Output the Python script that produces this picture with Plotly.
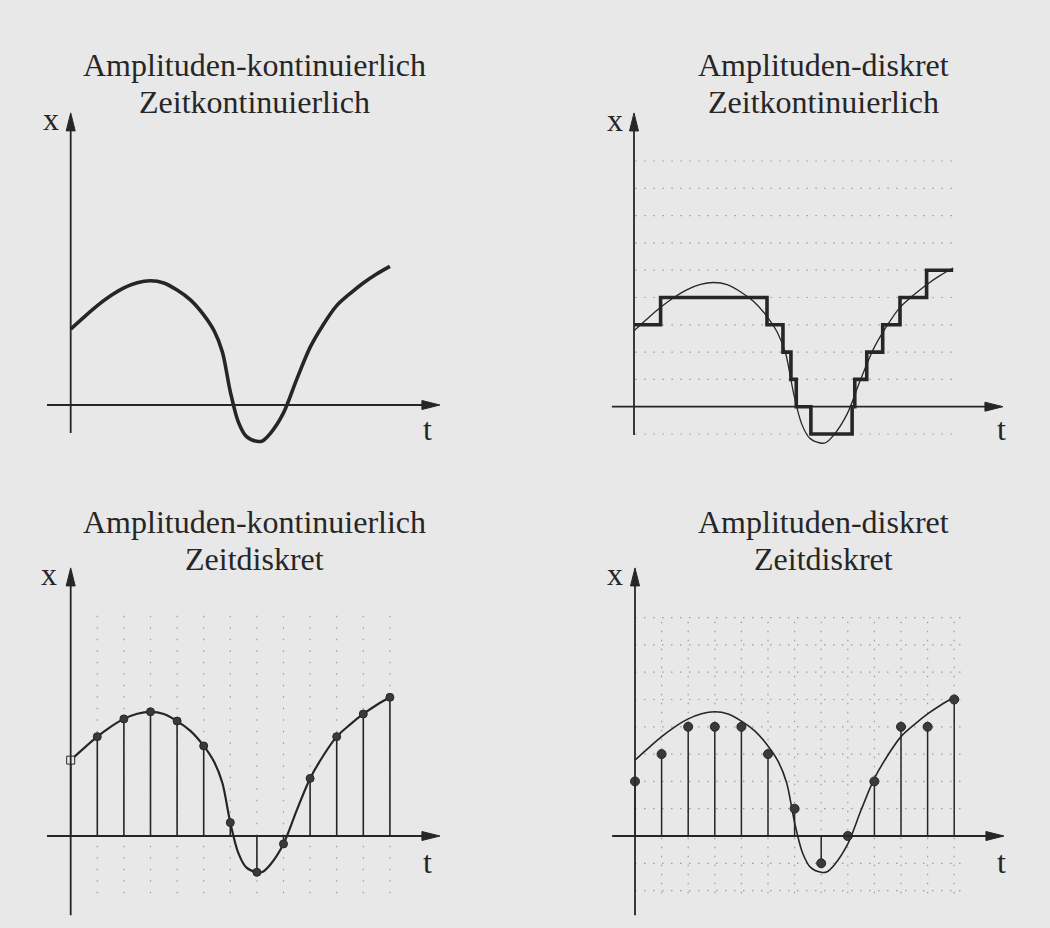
import plotly.graph_objects as go

W, H = 1050, 928
INK = "#262626"
PAPER = "#e8e8e8"
GRID = "#9c9c9c"
FONT = "Liberation Serif, Times New Roman, serif"

# Continuous signal x(t): knots along the curve
# (t in sampling periods, x in quantisation steps)
curve_t = [0, 0.5, 1, 1.5, 2, 2.5, 3, 3.5, 4, 4.5, 5, 5.4, 5.7, 6, 6.3, 6.6,
           7, 7.2, 7.5, 8, 8.5, 9, 9.5, 10, 10.5, 11, 11.5, 12]
curve_x = [2.78, 3.22, 3.64, 4.0, 4.29, 4.48, 4.55, 4.47, 4.21, 3.85, 3.30, 2.70,
           1.95, 0.49, -0.62, -1.15, -1.33, -1.32, -1.05, -0.29, 0.95, 2.11, 2.95,
           3.64, 4.08, 4.47, 4.80, 5.08]

# Samples taken at t = 0, 1, ..., 12
sample_t = list(range(13))
sample_x = [2.78, 3.64, 4.29, 4.55, 4.21, 3.30, 0.49, -1.33, -0.29, 2.11, 3.64, 4.47, 5.08]

# Quantised samples (amplitude- and time-discrete)
sample_q = [2, 3, 4, 4, 4, 3, 1, -1, 0, 2, 4, 4, 5]

# Quantised continuous-time signal: switching instants and held levels
step_t = [0, 1, 5, 5.6, 5.9, 6.1, 6.65, 8.2, 8.3, 8.75, 9.35, 10, 11, 12]
step_q = [3, 4, 3, 2, 1, 0, -1, 0, 1, 2, 3, 4, 5, 5]

titles = [
    ("Amplituden-kontinuierlich", "Zeitkontinuierlich"),
    ("Amplituden-diskret", "Zeitkontinuierlich"),
    ("Amplituden-kontinuierlich", "Zeitdiskret"),
    ("Amplituden-diskret", "Zeitdiskret"),
]

PX_T = 26.6      # pixels per sampling period
PX_Q = 27.3      # pixels per quantisation step
T_RANGE = (-1.5, 14.5)
Q_RANGE = (-3.2, 11.0)
TITLE_SIZE = 32
LABEL_SIZE = 32
ARROW_LEN = 18   # px
ARROW_HW = 4.5   # px

panels = [
    dict(origin=(70.7, 405.0), title_cx=254, base=(76, 112.7),
         t_axis=(-0.89, 13.88), q_axis=(-1.03, 10.7),
         xlab=(-0.74, 10.07), tlab=(13.4, -1.28), hgrid=None, vgrid=None),
    dict(origin=(634.0, 406.7), title_cx=823, base=(76, 112.7),
         t_axis=(-0.83, 13.87), q_axis=(-1.04, 10.76),
         xlab=(-0.71, 10.1), tlab=(13.83, -1.22),
         hgrid=(-1, 9, 0.05, 12.2, "1.5px,7.5px"), vgrid=None),
    dict(origin=(70.7, 836.0), title_cx=254, base=(533, 569.5),
         t_axis=(-0.89, 13.88), q_axis=(-2.9, 9.82),
         xlab=(-0.83, 9.19), tlab=(13.4, -1.36),
         hgrid=None, vgrid=(1, 12, -2.1, 8.4, "1.5px,10px")),
    dict(origin=(635.0, 836.0), title_cx=823, base=(533, 569.5),
         t_axis=(-0.86, 13.87), q_axis=(-2.9, 9.82),
         xlab=(-0.77, 9.19), tlab=(13.76, -1.36),
         hgrid=(-2, 8, 0.0, 12.25, "1.5px,7.5px"), vgrid=(1, 12, -2.1, 8.0, "1.5px,7.5px")),
]

fig = go.Figure()
shapes = []
annotations = []


def axis_names(i):
    suffix = "" if i == 1 else str(i)
    return "x" + suffix, "y" + suffix, "xaxis" + suffix, "yaxis" + suffix


for i, p in enumerate(panels, start=1):
    xr, yr, xkey, ykey = axis_names(i)
    X0, Y0 = p["origin"]
    dom_x = [(X0 + T_RANGE[0] * PX_T) / W, (X0 + T_RANGE[1] * PX_T) / W]
    dom_y = [1 - (Y0 - Q_RANGE[0] * PX_Q) / H, 1 - (Y0 - Q_RANGE[1] * PX_Q) / H]
    fig.update_layout(**{
        xkey: dict(domain=dom_x, range=list(T_RANGE), anchor=yr, visible=False, fixedrange=True),
        ykey: dict(domain=dom_y, range=list(Q_RANGE), anchor=xr, visible=False, fixedrange=True),
    })

    # dotted helper grid
    if p["hgrid"]:
        q0, q1, ta, tb, dash = p["hgrid"]
        for q in range(q0, q1 + 1):
            if q == 0:
                continue
            shapes.append(dict(type="line", xref=xr, yref=yr, x0=ta, x1=tb, y0=q, y1=q,
                               line=dict(color=GRID, width=1.2, dash=dash), layer="below"))
    if p["vgrid"]:
        t0, t1, qa, qb, dash = p["vgrid"]
        for t in range(t0, t1 + 1):
            shapes.append(dict(type="line", xref=xr, yref=yr, x0=t, x1=t, y0=qa, y1=qb,
                               line=dict(color=GRID, width=1.2, dash=dash), layer="below"))

    # coordinate axes with arrow heads
    ta, tb = p["t_axis"]
    qa, qb = p["q_axis"]
    al_t, hw_q = ARROW_LEN / PX_T, ARROW_HW / PX_Q
    al_q, hw_t = ARROW_LEN / PX_Q, ARROW_HW / PX_T
    shapes.append(dict(type="line", xref=xr, yref=yr, x0=ta, x1=tb - al_t * 0.6, y0=0, y1=0,
                       line=dict(color=INK, width=1.8)))
    shapes.append(dict(type="path", xref=xr, yref=yr,
                       path=f"M {tb},0 L {tb - al_t},{hw_q} L {tb - al_t},{-hw_q} Z",
                       fillcolor=INK, line=dict(color=INK, width=1)))
    shapes.append(dict(type="line", xref=xr, yref=yr, x0=0, x1=0, y0=qa, y1=qb - al_q * 0.6,
                       line=dict(color=INK, width=1.8)))
    shapes.append(dict(type="path", xref=xr, yref=yr,
                       path=f"M 0,{qb} L {hw_t},{qb - al_q} L {-hw_t},{qb - al_q} Z",
                       fillcolor=INK, line=dict(color=INK, width=1)))

    # axis labels (positions given at text baseline)
    lift = 0.34 * LABEL_SIZE / PX_Q
    for txt, (lt, lq) in (("x", p["xlab"]), ("t", p["tlab"])):
        annotations.append(dict(text=txt, xref=xr, yref=yr, x=lt, y=lq + lift,
                                xanchor="center", yanchor="middle", showarrow=False,
                                borderpad=0,
                                font=dict(family=FONT, size=LABEL_SIZE, color=INK)))

    # two-line panel title
    for line_txt, base in zip(titles[i - 1], p["base"]):
        annotations.append(dict(text=line_txt, xref="paper", yref="paper",
                                x=p["title_cx"] / W, y=1 - (base - 0.34 * TITLE_SIZE) / H,
                                xanchor="center", yanchor="middle", showarrow=False,
                                borderpad=0,
                                font=dict(family=FONT, size=TITLE_SIZE, color=INK)))


def stems(ts, vs):
    xs, ys = [], []
    for t, v in zip(ts, vs):
        xs += [t, t, None]
        ys += [0, v, None]
    return xs, ys


# 1: amplitude-continuous, time-continuous
fig.add_trace(go.Scatter(x=curve_t, y=curve_x, mode="lines", xaxis="x", yaxis="y",
                         line=dict(color=INK, width=3.6, shape="spline", smoothing=0.9)))

# 2: amplitude-discrete, time-continuous
fig.add_trace(go.Scatter(x=step_t, y=step_q, mode="lines", xaxis="x2", yaxis="y2",
                         line=dict(color=INK, width=3.6, shape="hv")))
fig.add_trace(go.Scatter(x=curve_t, y=curve_x, mode="lines", xaxis="x2", yaxis="y2",
                         line=dict(color=INK, width=1.3, shape="spline", smoothing=0.9)))

# 3: amplitude-continuous, time-discrete
sx, sy = stems(sample_t, sample_x)
fig.add_trace(go.Scatter(x=sx, y=sy, mode="lines", xaxis="x3", yaxis="y3",
                         line=dict(color=INK, width=1.6)))
fig.add_trace(go.Scatter(x=curve_t, y=curve_x, mode="lines", xaxis="x3", yaxis="y3",
                         line=dict(color=INK, width=2.2, shape="spline", smoothing=0.9)))
fig.add_trace(go.Scatter(x=sample_t, y=sample_x, mode="markers", xaxis="x3", yaxis="y3",
                         marker=dict(size=8,
                                     symbol=["square"] + ["circle"] * (len(sample_t) - 1),
                                     color=[PAPER] + ["#3a3a3a"] * (len(sample_t) - 1),
                                     line=dict(color=INK, width=1))))

# 4: amplitude-discrete, time-discrete
qx, qy = stems(sample_t, sample_q)
fig.add_trace(go.Scatter(x=qx, y=qy, mode="lines", xaxis="x4", yaxis="y4",
                         line=dict(color=INK, width=1.5)))
fig.add_trace(go.Scatter(x=curve_t, y=curve_x, mode="lines", xaxis="x4", yaxis="y4",
                         line=dict(color=INK, width=1.6, shape="spline", smoothing=0.9)))
fig.add_trace(go.Scatter(x=sample_t, y=sample_q, mode="markers", xaxis="x4", yaxis="y4",
                         marker=dict(size=9, color="#3a3a3a", line=dict(color=INK, width=1))))

fig.update_layout(
    width=W, height=H,
    margin=dict(l=0, r=0, t=0, b=0),
    paper_bgcolor=PAPER, plot_bgcolor="rgba(0,0,0,0)",
    showlegend=False,
    shapes=shapes, annotations=annotations,
)

fig.write_html("out.html", config={"displayModeBar": False})
